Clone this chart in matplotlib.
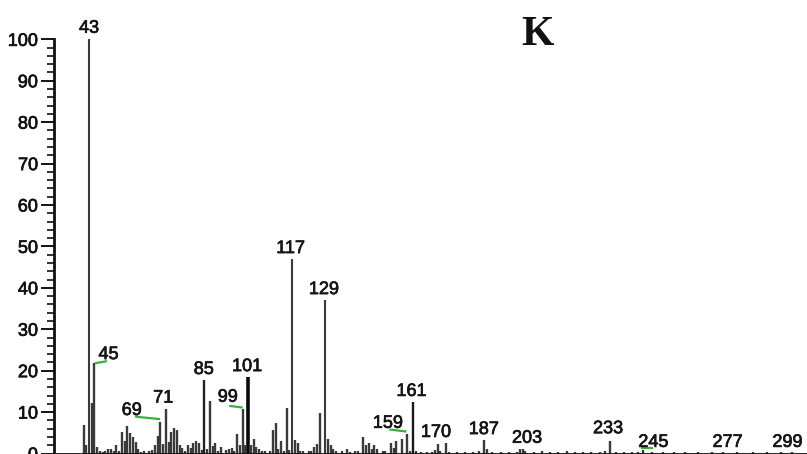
import matplotlib
matplotlib.use("Agg")
import matplotlib.pyplot as plt
import matplotlib.patheffects as pe
from matplotlib.ticker import FixedLocator

# ---- data (m/z, relative intensity) ----
mz = [41, 42, 43, 44, 45, 46, 47, 48, 49, 50, 51, 52, 53, 54, 55, 56, 57, 58, 59, 60,
      61, 62, 63, 65, 66, 67, 68, 69, 70, 71, 72, 73, 74, 75, 76, 77, 78, 79, 80,
      81, 82, 83, 84, 85, 86, 87, 88, 89, 90, 91, 93, 94, 95, 96, 97, 98, 99, 100,
      101, 102, 103, 104, 105, 106, 107, 109, 110, 111, 112, 113, 114, 115, 116, 117,
      118, 119, 120, 121, 123, 124, 125, 126, 127, 129, 130, 131, 132, 133, 135, 137,
      138, 140, 141, 143, 144, 145, 146, 147, 148, 150, 151, 153, 154, 155, 157, 159,
      160, 161, 162, 164, 166, 168, 169, 170, 171, 173, 174, 177, 180, 183, 185, 187,
      188, 190, 193, 196, 199, 200, 201, 202, 205, 208, 211, 214, 217, 220, 223, 226,
      229, 231, 233, 235, 238, 241, 243, 245, 248, 252, 256, 260, 265, 270, 274, 279,
      285, 290, 295, 299]
intensity = [6.8, 2.0, 100.0, 12.1, 21.8, 1.5, 0.5, 0.4, 0.6, 1.0, 1.2, 0.6, 2.1, 0.7, 5.3, 3.1, 6.7, 5.0, 4.0, 2.8,
             1.0, 0.4, 0.5, 0.6, 0.8, 2.0, 4.2, 7.7, 2.4, 10.7, 2.8, 5.3, 6.1, 5.6, 2.0, 1.3, 0.5, 2.0, 1.3,
             2.5, 3.1, 2.6, 0.8, 17.7, 1.0, 12.7, 1.8, 2.5, 0.6, 1.5, 0.8, 1.1, 1.3, 0.5, 4.6, 2.0, 10.7, 2.0,
             18.4, 2.0, 3.4, 1.6, 1.1, 0.6, 0.7, 0.5, 5.7, 7.4, 1.0, 3.1, 0.6, 11.1, 0.8, 47.0,
             3.3, 2.6, 0.7, 0.5, 0.5, 0.6, 1.5, 2.3, 9.7, 37.1, 3.4, 2.0, 1.1, 0.5, 0.5, 1.1,
             0.4, 0.6, 0.5, 4.0, 2.0, 2.6, 1.2, 2.0, 1.0, 0.5, 0.6, 2.5, 1.4, 3.0, 3.4, 4.7,
             0.6, 12.5, 0.6, 0.4, 0.3, 0.4, 0.8, 2.4, 0.5, 2.6, 0.4, 0.4, 0.3, 0.4, 0.5, 3.3,
             1.2, 0.4, 0.3, 0.4, 0.3, 1.0, 1.1, 0.6, 0.4, 0.5, 0.3, 0.4, 0.6, 0.3, 0.4, 0.3,
             0.4, 0.5, 3.1, 0.4, 0.3, 0.4, 0.3, 0.8, 0.3, 0.4, 0.3, 0.3, 0.4, 0.3, 0.3, 0.3,
             0.3, 0.3, 0.3, 0.3]

# labelled peaks and where their labels sit (centre m/z, baseline intensity)
label_text = ["43", "45", "69", "71", "85", "99", "101", "117", "129", "159", "161",
              "170", "187", "203", "233", "245", "277", "299"]
label_x = [43.0, 50.1, 58.6, 70.0, 84.8, 93.6, 100.6, 116.4, 128.6, 151.9, 160.5,
           169.4, 186.8, 202.6, 232.1, 248.6, 275.6, 297.5]
label_y = [101.6, 22.8, 9.3, 12.3, 19.2, 12.5, 19.9, 48.4, 38.5, 6.2, 13.9,
           4.0, 4.7, 2.6, 4.9, 1.6, 1.6, 1.6]

# green marker strokes under some labels: (x0, x1, y0, y1)
green_x0 = [45.2, 59.8, 94.1, 152.4, 244.3]
green_x1 = [49.6, 68.9, 99.0, 158.7, 248.6]
green_y0 = [21.8, 8.9, 11.5, 5.8, 1.4]
green_y1 = [22.3, 8.3, 11.1, 5.3, 1.4]

ytick_vals = [0, 10, 20, 30, 40, 50, 60, 70, 80, 90, 100]
yminor_vals = list(range(0, 101, 2))

# ---- figure ----
W, H, DPI = 807, 454, 100
fig = plt.figure(figsize=(W / DPI, H / DPI), dpi=DPI)
fig.patch.set_facecolor("white")
ax = fig.add_axes([54 / W, 0.0, 1 - 54 / W, 1.0])
ax.set_facecolor("none")

dark = {101: "#0a0a0a", 161: "#1a1a1a", 85: "#222222"}
widths = {101: 2.6, 43: 1.5, 117: 1.5, 129: 1.5}
for m, v in zip(mz, intensity):
    ax.vlines(m, 0, v, colors=dark.get(m, "#3a3a3a"), linewidth=widths.get(m, 1.7))

for x0, x1, y0, y1 in zip(green_x0, green_x1, green_y0, green_y1):
    ax.plot([x0, x1], [y0, y1], color="#38b03a", linewidth=1.6, solid_capstyle="butt")

thick = [pe.withStroke(linewidth=0.5, foreground="#151515")]
for t, x, y in zip(label_text, label_x, label_y):
    ax.text(x, y, t, ha="center", va="baseline", fontsize=13,
            family="Liberation Sans", color="#151515", path_effects=thick)

ax.set_xlim(30.25, 304.6)
ax.set_ylim(-0.12, 109.5)

for s in ["top", "right"]:
    ax.spines[s].set_visible(False)
ax.spines["left"].set_bounds(0, 100)
ax.spines["left"].set_linewidth(2.0)
ax.spines["left"].set_color("#111111")
ax.spines["bottom"].set_position(("data", 0))
ax.spines["bottom"].set_linewidth(2.0)
ax.spines["bottom"].set_color("#111111")

ax.set_xticks([])
ax.set_yticks(ytick_vals)
ax.set_yticklabels([str(v) for v in ytick_vals])
ax.yaxis.set_minor_locator(FixedLocator(yminor_vals))
ax.tick_params(axis="y", which="major", length=9.5, width=1.4, pad=2,
               labelsize=13, colors="#111111")
ax.tick_params(axis="y", which="minor", length=5, width=1.2, colors="#111111")
for lab in ax.get_yticklabels():
    lab.set_family("Liberation Sans")
    lab.set_path_effects(thick)

fig.text(537 / W, 1 - 45 / H, "K", ha="center", va="baseline", fontsize=30,
         fontweight="bold", family="Liberation Serif", color="#111111")

fig.savefig("out.png", dpi=DPI, facecolor="white")
